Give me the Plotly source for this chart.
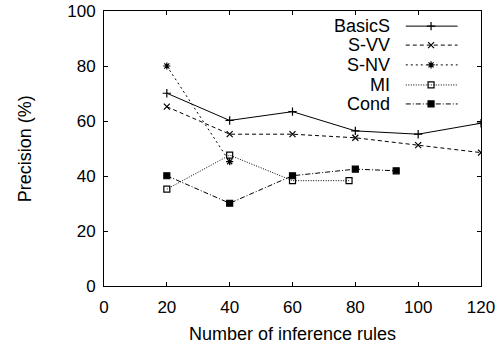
import plotly.graph_objects as go

# ---- data ----
basics_x = [20, 40, 60, 80, 100, 120]
basics_y = [70.1, 60.2, 63.4, 56.4, 55.2, 59.2]

svv_x = [20, 40, 60, 80, 100, 120]
svv_y = [65.2, 55.2, 55.2, 53.9, 51.2, 48.5]

snv_x = [20, 40]
snv_y = [80.0, 45.2]

mi_x = [20, 40, 60, 78]
mi_y = [35.2, 47.6, 38.3, 38.3]

cond_x = [20, 40, 60, 80, 93]
cond_y = [40.1, 30.1, 40.1, 42.5, 41.9]

series_names = ["BasicS", "S-VV", "S-NV", "MI", "Cond"]
x_ticks = [0, 20, 40, 60, 80, 100, 120]
y_ticks = [0, 20, 40, 60, 80, 100]

# ---- styles ----
styles = {
    "BasicS": dict(dash="solid", symbol="cross-thin-open", size=6),
    "S-VV": dict(dash="4px,3px", symbol="x-thin-open", size=6),
    "S-NV": dict(dash="2px,3px", symbol="asterisk-open", size=6),
    "MI": dict(dash="1px,1.5px", symbol="square-open", size=6),
    "Cond": dict(dash="5px,2px,1px,2px", symbol="square", size=6),
}
data = {
    "BasicS": (basics_x, basics_y),
    "S-VV": (svv_x, svv_y),
    "S-NV": (snv_x, snv_y),
    "MI": (mi_x, mi_y),
    "Cond": (cond_x, cond_y),
}

FONT = "Liberation Sans, Arial, sans-serif"
fig = go.Figure()
for name in series_names:
    xs, ys = data[name]
    st = styles[name]
    fig.add_trace(go.Scatter(
        x=xs, y=ys, mode="lines+markers", name=name, showlegend=False,
        line=dict(color="black", width=1, dash=st["dash"]),
        marker=dict(symbol=st["symbol"], size=st["size"], color="black",
                    line=dict(color="black", width=1.2)),
    ))

# custom gnuplot-style legend (text left, sample right) on hidden overlay axes
leg_rows = [0.945, 0.876, 0.804, 0.731, 0.662]
x0, x1, xm = 0.8005, 0.938, 0.8675
for name, yy in zip(series_names, leg_rows):
    st = styles[name]
    fig.add_trace(go.Scatter(
        x=[x0, x1], y=[yy, yy], mode="lines", xaxis="x2", yaxis="y2",
        showlegend=False, hoverinfo="skip",
        line=dict(color="black", width=1, dash=st["dash"]),
    ))
    fig.add_trace(go.Scatter(
        x=[xm], y=[yy], mode="markers", xaxis="x2", yaxis="y2",
        showlegend=False, hoverinfo="skip",
        marker=dict(symbol=st["symbol"], size=st["size"], color="black",
                    line=dict(color="black", width=1.2)),
    ))
    fig.add_annotation(
        text=name, x=0.764, y=yy, xref="paper", yref="paper",
        xanchor="right", yanchor="middle", showarrow=False,
        font=dict(family=FONT, size=18, color="black"),
    )

# y-axis title placed as a rotated text annotation
fig.add_annotation(
    text="Precision (%)", x=-0.21, y=0.5, xref="paper", yref="paper",
    xanchor="center", yanchor="middle", textangle=-90, showarrow=False,
    font=dict(family=FONT, size=18, color="black"),
)

axis_common = dict(
    showgrid=False, zeroline=False, showline=True, linecolor="black",
    linewidth=1, ticks="inside", ticklen=4, tickcolor="black",
    mirror="ticks", automargin=False,
    tickfont=dict(family=FONT, size=17, color="black"),
)
fig.update_layout(
    width=504, height=349,
    margin=dict(l=104, r=23, t=11, b=63),
    plot_bgcolor="white", paper_bgcolor="white",
    xaxis=dict(range=[0, 120], tickvals=x_ticks, ticklabelstandoff=6,
               **axis_common,
               title=dict(text="Number of inference rules",
                          font=dict(family=FONT, size=18, color="black"),
                          standoff=10)),
    yaxis=dict(range=[0, 100], tickvals=y_ticks, ticklabelstandoff=4,
               **axis_common),
    xaxis2=dict(range=[0, 1], overlaying="x", visible=False),
    yaxis2=dict(range=[0, 1], overlaying="y", visible=False),
    showlegend=False,
)
fig.write_html(
    "out.html",
    config={"displayModeBar": False},
    post_script="document.body.style.margin='0';document.body.style.overflow='hidden';",
)
